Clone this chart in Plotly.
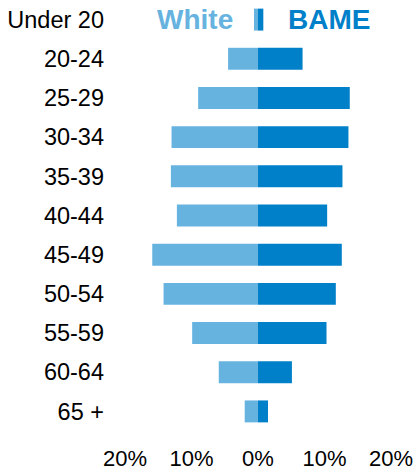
import plotly.graph_objects as go

categories = ["Under 20", "20-24", "25-29", "30-34", "35-39", "40-44",
              "45-49", "50-54", "55-59", "60-64", "65 +"]
white = [0.6, 4.5, 9.0, 13.0, 13.1, 12.2, 15.9, 14.2, 9.9, 5.9, 2.0]
bame = [0.8, 6.7, 13.8, 13.6, 12.7, 10.4, 12.6, 11.7, 10.3, 5.1, 1.5]
tick_vals = [-20, -10, 0, 10, 20]
tick_text = ["20%", "10%", "0%", "10%", "20%"]

LIGHT = "#67b3e0"
DARK = "#0080c9"
FONT = "Liberation Sans, Arial, sans-serif"

fig = go.Figure()
fig.add_trace(go.Bar(y=categories, x=[-v for v in white], orientation="h",
                     marker=dict(color=LIGHT, line=dict(width=0)), width=0.56,
                     name="White", hoverinfo="skip"))
fig.add_trace(go.Bar(y=categories, x=bame, orientation="h",
                     marker=dict(color=DARK, line=dict(width=0)), width=0.56,
                     name="BAME", hoverinfo="skip"))

fig.add_annotation(x=-9.4, y="Under 20", text="<b>White</b>", showarrow=False,
                   font=dict(size=28, color=LIGHT, family=FONT), xanchor="center", yanchor="middle")
fig.add_annotation(x=10.7, y="Under 20", text="<b>BAME</b>", showarrow=False,
                   font=dict(size=28, color=DARK, family=FONT), xanchor="center", yanchor="middle")

fig.update_layout(
    width=418, height=472,
    margin=dict(l=125, r=27, t=0, b=41, autoexpand=False),
    barmode="relative",
    showlegend=False,
    plot_bgcolor="white", paper_bgcolor="white",
    font=dict(family=FONT, color="#000000"),
)
fig.update_xaxes(range=[-20, 20], tickvals=tick_vals, ticktext=tick_text,
                 showgrid=False, zeroline=False, showline=False, ticks="",
                 tickfont=dict(size=22, family=FONT, color="#000000"),
                 ticklabelstandoff=12, automargin=False, fixedrange=True)
fig.update_yaxes(categoryorder="array", categoryarray=categories,
                 range=[10.5, -0.5], showgrid=False, zeroline=False, showline=False,
                 ticks="", tickfont=dict(size=23.5, family=FONT, color="#000000"),
                 ticklabelstandoff=20, automargin=False, fixedrange=True)

fig.write_html("out.html", config={"displayModeBar": False},
               post_script="document.body.style.margin='0';document.body.style.overflow='hidden';")
